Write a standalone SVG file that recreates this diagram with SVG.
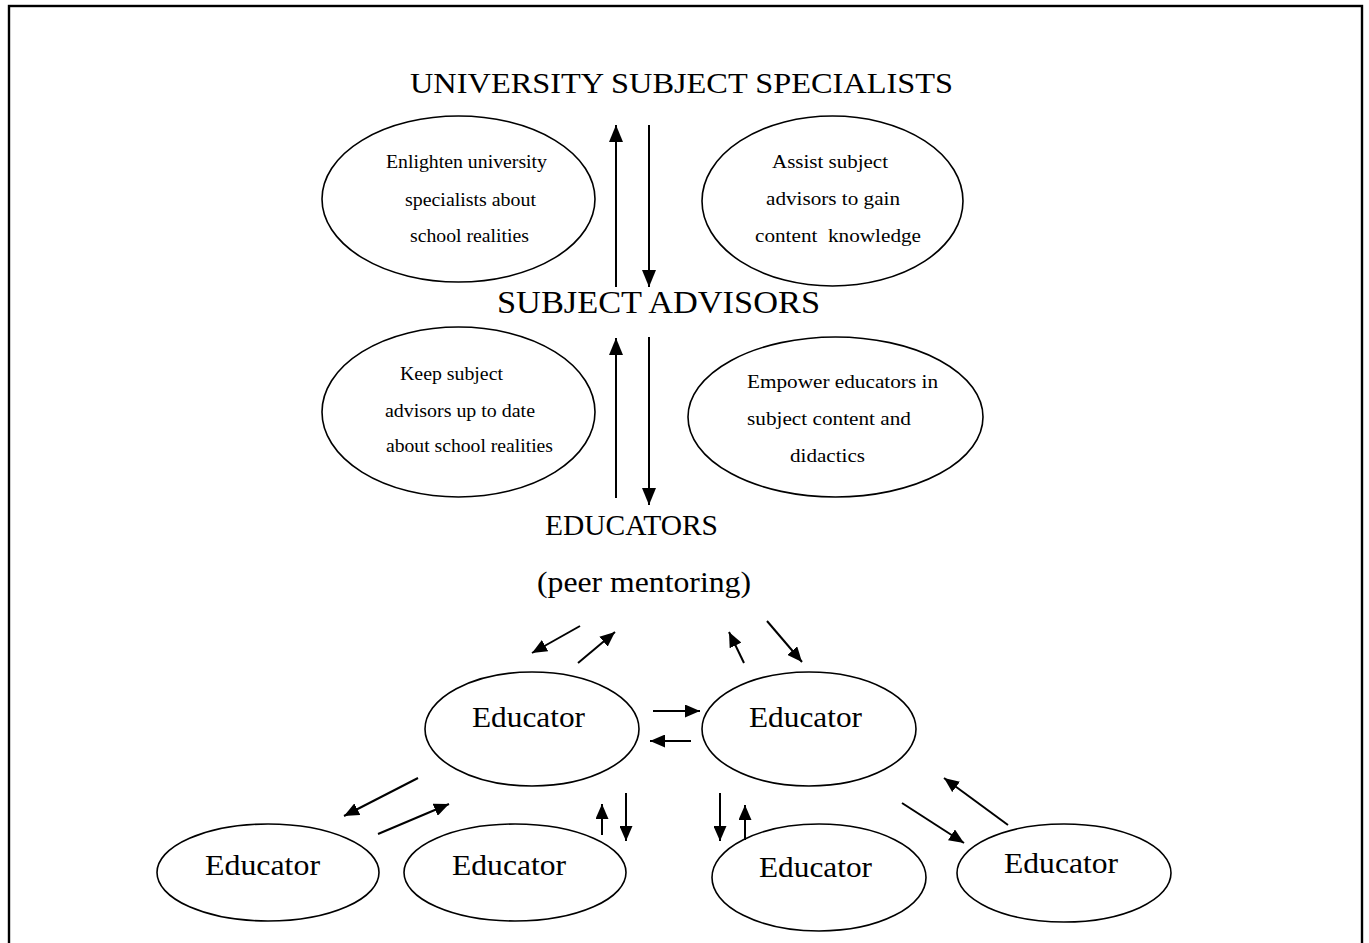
<svg xmlns="http://www.w3.org/2000/svg" width="1369" height="943" viewBox="0 0 1369 943">
<style>
.node ellipse{fill:none;stroke:#000;stroke-width:1.6}
text{font-family:"Liberation Serif","Times New Roman",serif;fill:#000}
.sm{font-size:18px}
.ed{font-size:30px}
.hd{font-size:30px}
.conn line{stroke:#000;stroke-width:2}
.big line{marker-end:url(#ah)}
.small line{marker-end:url(#as)}
</style>
<defs>
<marker id="ah" markerUnits="userSpaceOnUse" markerWidth="18" markerHeight="14" refX="17" refY="7" orient="auto"><path d="M0,0 L17,7 L0,14 Z" fill="#000"/></marker>
<marker id="as" markerUnits="userSpaceOnUse" markerWidth="16" markerHeight="13" refX="15" refY="6.5" orient="auto"><path d="M0,0 L15,6.5 L0,13 Z" fill="#000"/></marker>
</defs>
<rect x="9" y="6" width="1353" height="960" fill="#fff" stroke="#000" stroke-width="2.4"/>

<g id="heading-university">
<text class="hd" x="410" y="93" textLength="543" lengthAdjust="spacingAndGlyphs" style="font-size:28.5px">UNIVERSITY SUBJECT SPECIALISTS</text>
</g>
<g id="heading-advisors">
<text class="hd" x="497" y="313" textLength="323" lengthAdjust="spacingAndGlyphs" style="font-size:31px">SUBJECT ADVISORS</text>
</g>
<g id="heading-educators">
<text class="hd" x="545" y="535" textLength="173" lengthAdjust="spacingAndGlyphs">EDUCATORS</text>
<text class="hd" x="537" y="592" textLength="214" lengthAdjust="spacingAndGlyphs">(peer mentoring)</text>
</g>

<g id="node-enlighten" class="node">
<ellipse cx="458.5" cy="199" rx="136.5" ry="83"/>
<text class="sm" x="386" y="168" textLength="161" lengthAdjust="spacingAndGlyphs">Enlighten university</text>
<text class="sm" x="405" y="206" textLength="131" lengthAdjust="spacingAndGlyphs">specialists about</text>
<text class="sm" x="410" y="242" textLength="119" lengthAdjust="spacingAndGlyphs">school realities</text>
</g>
<g id="node-assist" class="node">
<ellipse cx="832.5" cy="201" rx="130.5" ry="85"/>
<text class="sm" x="772" y="168" textLength="116" lengthAdjust="spacingAndGlyphs">Assist subject</text>
<text class="sm" x="766" y="205" textLength="134" lengthAdjust="spacingAndGlyphs">advisors to gain</text>
<text class="sm" x="755" y="242" textLength="166" lengthAdjust="spacingAndGlyphs" xml:space="preserve">content  knowledge</text>
</g>
<g id="node-keep" class="node">
<ellipse cx="458.5" cy="412" rx="136.5" ry="85"/>
<text class="sm" x="400" y="380" textLength="103" lengthAdjust="spacingAndGlyphs">Keep subject</text>
<text class="sm" x="385" y="417" textLength="150" lengthAdjust="spacingAndGlyphs">advisors up to date</text>
<text class="sm" x="386" y="452" textLength="167" lengthAdjust="spacingAndGlyphs">about school realities</text>
</g>
<g id="node-empower" class="node">
<ellipse cx="835.5" cy="417" rx="147.5" ry="80"/>
<text class="sm" x="747" y="388" textLength="191" lengthAdjust="spacingAndGlyphs">Empower educators in</text>
<text class="sm" x="747" y="425" textLength="164" lengthAdjust="spacingAndGlyphs">subject content and</text>
<text class="sm" x="790" y="462" textLength="75" lengthAdjust="spacingAndGlyphs">didactics</text>
</g>

<g id="node-educator-ml" class="node">
<ellipse cx="532" cy="729" rx="107" ry="57"/>
<text class="ed" x="472" y="727" textLength="113" lengthAdjust="spacingAndGlyphs">Educator</text>
</g>
<g id="node-educator-mr" class="node">
<ellipse cx="809" cy="729" rx="107" ry="57"/>
<text class="ed" x="749" y="727" textLength="113" lengthAdjust="spacingAndGlyphs">Educator</text>
</g>
<g id="node-educator-bl1" class="node">
<ellipse cx="268" cy="872.5" rx="111" ry="48.5"/>
<text class="ed" x="205" y="875" textLength="115" lengthAdjust="spacingAndGlyphs">Educator</text>
</g>
<g id="node-educator-bl2" class="node">
<ellipse cx="515" cy="872.5" rx="111" ry="48.5"/>
<text class="ed" x="452" y="875" textLength="114" lengthAdjust="spacingAndGlyphs">Educator</text>
</g>
<g id="node-educator-br1" class="node">
<ellipse cx="819" cy="877.5" rx="107" ry="53.5"/>
<text class="ed" x="759" y="877" textLength="113" lengthAdjust="spacingAndGlyphs">Educator</text>
</g>
<g id="node-educator-br2" class="node">
<ellipse cx="1064" cy="873" rx="107" ry="49"/>
<text class="ed" x="1004" y="873" textLength="114" lengthAdjust="spacingAndGlyphs">Educator</text>
</g>

<g id="connectors" class="conn">
<g class="big">
<line x1="616" y1="287" x2="616" y2="125"/>
<line x1="649" y1="125" x2="649" y2="287"/>
<line x1="616" y1="498" x2="616" y2="338"/>
<line x1="649" y1="337" x2="649" y2="505"/>
</g>
<g class="small">
<line x1="580" y1="626" x2="532" y2="653"/>
<line x1="578" y1="663" x2="615" y2="632"/>
<line x1="744" y1="663" x2="729" y2="632"/>
<line x1="767" y1="621" x2="802" y2="662"/>
<line x1="653" y1="711" x2="700" y2="711"/>
<line x1="691" y1="741" x2="650" y2="741"/>
<line x1="418" y1="778" x2="344" y2="816"/>
<line x1="378" y1="834" x2="449" y2="804"/>
<line x1="602" y1="835" x2="602" y2="804"/>
<line x1="626" y1="793" x2="626" y2="841"/>
<line x1="720" y1="793" x2="720" y2="841"/>
<line x1="745" y1="840" x2="745" y2="805"/>
<line x1="902" y1="803" x2="964" y2="843"/>
<line x1="1008" y1="825" x2="944" y2="778"/>
</g>
</g>
</svg>
